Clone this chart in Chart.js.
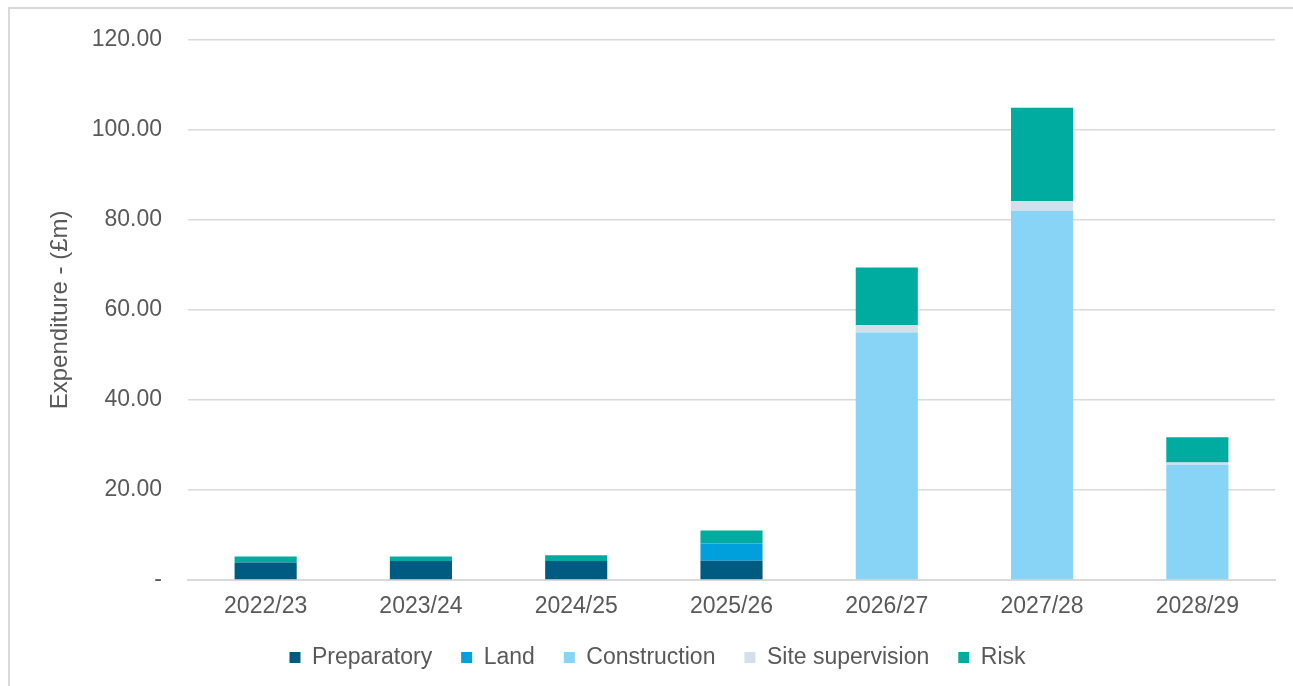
<!DOCTYPE html>
<html lang="en">
<head>
    <meta charset="UTF-8">
    <title>Expenditure by year</title>
    <script src="https://cdn.jsdelivr.net/npm/chart.js"></script>
    <style>
        html, body {
            margin: 0;
            padding: 0;
            background: #fff;
            overflow: hidden;
        }

        .frame {
            position: absolute;
            left: 8px;
            top: 7px;
            width: 1285px;
            height: 679px;
            border-left: 2px solid #d9d9d9;
            border-top: 2px solid #d9d9d9;
            box-sizing: border-box;
        }

        .chart-box {
            position: absolute;
            left: 0;
            top: 0;
            width: 1293px;
            height: 686px;
        }
    </style>
</head>
<body>
    <div class="frame"></div>
    <div class="chart-box">
        <canvas id="spendChart"></canvas>
    </div>

    <script>
        const years = ['2022/23', '2023/24', '2024/25', '2025/26', '2026/27', '2027/28', '2028/29'];

        const preparatory     = [3.9, 4.2, 4.2, 4.3, 0, 0, 0];
        const land            = [0, 0, 0, 3.8, 0, 0, 0];
        const construction    = [0, 0, 0, 0, 55.0, 82.0, 25.6];
        const siteSupervision = [0, 0, 0, 0, 1.6, 2.2, 0.5];
        const risk            = [1.3, 1.0, 1.3, 2.9, 12.8, 20.7, 5.6];

        const textGrey = '#595959';
        const gridGrey = '#d9d9d9';
        const family = "'Liberation Sans', Arial, sans-serif";
        const font = { family: family, size: 23 };

        function series(label, values, colour) {
            return {
                label: label,
                data: values,
                backgroundColor: colour,
                borderWidth: 0,
                barPercentage: 0.4,
                categoryPercentage: 1
            };
        }

        new Chart(document.getElementById('spendChart'), {
            type: 'bar',
            data: {
                labels: years,
                datasets: [
                    series('Preparatory', preparatory, '#005b82'),
                    series('Land', land, '#00a0dc'),
                    series('Construction', construction, '#87d4f7'),
                    series('Site supervision', siteSupervision, '#d3dfea'),
                    series('Risk', risk, '#00aba0')
                ]
            },
            options: {
                responsive: true,
                maintainAspectRatio: false,
                animation: false,
                layout: {
                    padding: { left: 40, right: 18, top: 35, bottom: 7 }
                },
                plugins: {
                    tooltip: { enabled: false },
                    legend: {
                        position: 'bottom',
                        labels: {
                            color: textGrey,
                            font: font,
                            boxWidth: 11,
                            boxHeight: 11,
                            padding: 29
                        }
                    }
                },
                scales: {
                    x: {
                        stacked: true,
                        grid: { display: false, drawTicks: false },
                        border: { color: gridGrey, width: 2 },
                        ticks: { color: textGrey, font: font, padding: 13 },
                        afterFit(scale) { scale.height = 37; }
                    },
                    y: {
                        stacked: true,
                        min: 0,
                        max: 120,
                        grid: { color: gridGrey, lineWidth: 1.5, drawTicks: false },
                        border: { display: false },
                        ticks: {
                            stepSize: 20,
                            color: textGrey,
                            font: font,
                            padding: 26,
                            callback: v => v === 0 ? '-' : v.toFixed(2)
                        },
                        title: {
                            display: true,
                            text: 'Expenditure - (£m)',
                            color: textGrey,
                            font: { family: family, size: 24 },
                            padding: { top: 6, bottom: 0 }
                        },
                        afterFit(scale) { scale.width = 148; }
                    }
                }
            }
        });
    </script>
</body>
</html>
